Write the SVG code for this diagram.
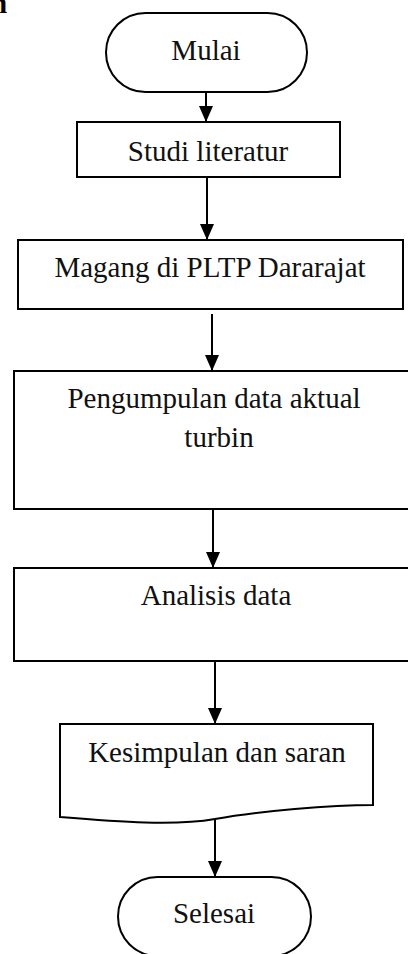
<svg xmlns="http://www.w3.org/2000/svg" width="408" height="954" viewBox="0 0 408 954">
<style>
.s{fill:#fff;stroke:#000;stroke-width:2}
.t{font-family:"Liberation Serif","Times New Roman",serif;font-size:29px;fill:#111;text-anchor:middle}
.c line{stroke:#000;stroke-width:2}
</style>
<defs>
<marker id="ah" markerWidth="14" markerHeight="16" viewBox="0 0 14 16" refX="7" refY="16" markerUnits="userSpaceOnUse" orient="auto-start-reverse">
<path d="M0,0 L14,0 L7,16 Z" fill="#000" transform="rotate(-90 7 8) translate(0 0)"/>
</marker>
<marker id="a" markerWidth="16" markerHeight="14" viewBox="0 0 16 14" refX="16" refY="7" markerUnits="userSpaceOnUse" orient="auto">
<path d="M0,0 L16,7 L0,14 Z" fill="#000"/>
</marker>
</defs>
<text x="-9" y="13" style="font-family:'Liberation Serif',serif;font-size:29px;font-weight:bold;fill:#000">n</text>
<g class="c" id="connectors">
<line x1="206" y1="92" x2="206" y2="122" marker-end="url(#a)"/>
<line x1="207" y1="177" x2="207" y2="240" marker-end="url(#a)"/>
<line x1="212" y1="314" x2="212" y2="371" marker-end="url(#a)"/>
<line x1="213" y1="509" x2="213" y2="568" marker-end="url(#a)"/>
<line x1="215" y1="661" x2="215" y2="724" marker-end="url(#a)"/>
<line x1="215" y1="819" x2="215" y2="877" marker-end="url(#a)"/>
</g>
<g id="mulai">
<rect class="s" x="106" y="13" width="201" height="79" rx="39.5"/>
<text class="t" x="206" y="60">Mulai</text>
</g>
<g id="studi">
<rect class="s" x="77" y="122" width="263" height="55"/>
<text class="t" x="208" y="161">Studi literatur</text>
</g>
<g id="magang">
<rect class="s" x="18" y="240" width="385" height="69"/>
<text class="t" x="210" y="277">Magang di PLTP Dararajat</text>
</g>
<g id="pengumpulan">
<rect class="s" x="14" y="371" width="400" height="138"/>
<text class="t" x="214" y="408">Pengumpulan data aktual</text>
<text class="t" x="219" y="447">turbin</text>
</g>
<g id="analisis">
<rect class="s" x="14" y="568" width="400" height="93"/>
<text class="t" x="216" y="605">Analisis data</text>
</g>
<g id="kesimpulan">
<path class="s" d="M60,724 H373 V805 C330,805 260,811 215,819 C175,826 120,822 60,817 Z"/>
<text class="t" x="217" y="762">Kesimpulan dan saran</text>
</g>
<g id="selesai">
<rect class="s" x="118" y="877" width="193" height="79" rx="39.5"/>
<text class="t" x="214" y="923">Selesai</text>
</g>
</svg>
